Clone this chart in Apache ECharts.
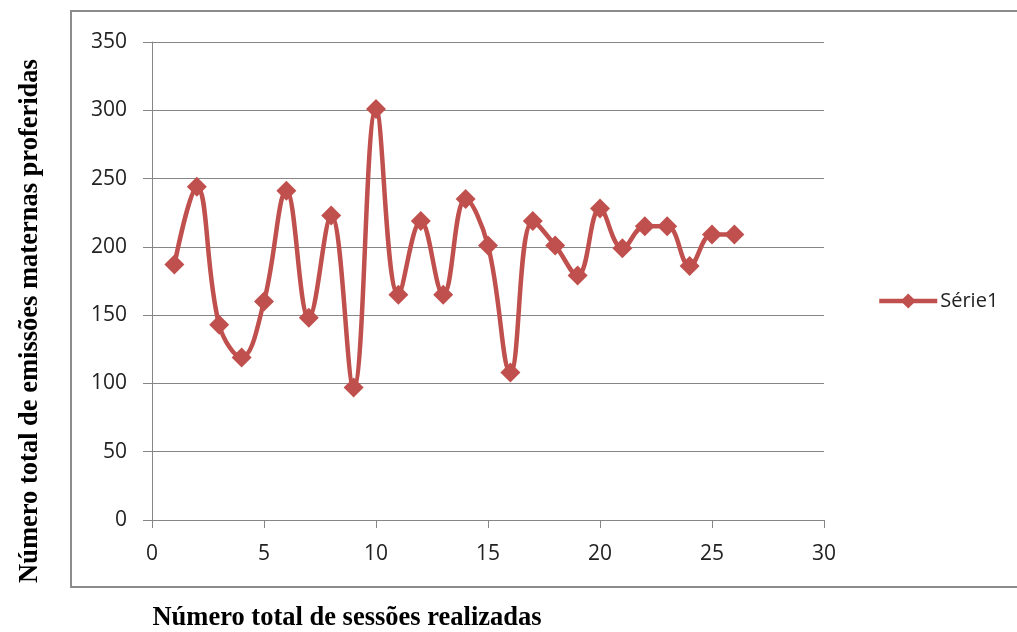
<!DOCTYPE html>
<html>
<head>
<meta charset="utf-8">
<script src="https://cdn.jsdelivr.net/npm/echarts@6/dist/echarts.min.js"></script>
<style>
  html, body { margin: 0; padding: 0; background: #fff; }
  #chart { width: 1017px; height: 632px; }
</style>
</head>
<body>
<div id="chart"></div>
<script>
// Sessions and number of maternal utterances per session
const sessoes = [1,2,3,4,5,6,7,8,9,10,11,12,13,14,15,16,17,18,19,20,21,22,23,24,25,26];
const emissoes = [187,244,143,119,160,241,148,223,97,301,165,219,165,235,201,108,219,201,179,228,199,215,215,186,209,209];
const serieNome = 'Série1';
const xTitulo = 'Número total de sessões realizadas';
const yTitulo = 'Número total de emissões maternas proferidas';

const pontos = sessoes.map((s, i) => [s, emissoes[i]]);
const vermelho = '#C0504D';
const cinza = '#868686';
const fonteEixo = '"Open Sans", sans-serif';
const fonteTitulo = 'bold 26.5px "Liberation Serif", "Times New Roman", serif';

const chart = echarts.init(document.getElementById('chart'));
chart.setOption({
  animation: false,
  backgroundColor: '#fff',
  graphic: [
    {
      type: 'rect',
      shape: { x: 71, y: 11, width: 1000, height: 576 },
      style: { fill: 'none', stroke: '#8c8c8c', lineWidth: 2 },
      silent: true
    },
    {
      type: 'text',
      x: 347, y: 618,
      style: {
        text: xTitulo, fill: '#000', font: fonteTitulo,
        align: 'center', verticalAlign: 'middle'
      }
    },
    {
      type: 'text',
      x: 30, y: 321, rotation: Math.PI / 2,
      style: {
        text: yTitulo, fill: '#000', font: fonteTitulo,
        align: 'center', verticalAlign: 'middle'
      }
    }
  ],
  grid: { left: 152, top: 42, width: 672, height: 478, containLabel: false },
  legend: {
    data: [serieNome],
    left: 872, top: 286,
    itemWidth: 58, itemHeight: 19,
    itemGap: 4,
    lineStyle: { width: 4.5 },
    textStyle: { fontFamily: fonteEixo, fontSize: 20, color: '#222', padding: [0, 0, 0, -2] }
  },
  xAxis: {
    type: 'value', min: 0, max: 30, interval: 5,
    axisLine: { show: true, lineStyle: { color: cinza, width: 1 } },
    axisTick: { show: true, length: 8, inside: false, lineStyle: { color: cinza } },
    splitLine: { show: false },
    axisLabel: { margin: 24, fontFamily: fonteEixo, fontSize: 21, color: '#222' }
  },
  yAxis: {
    type: 'value', min: 0, max: 350, interval: 50,
    axisLine: { show: true, lineStyle: { color: cinza, width: 1 } },
    axisTick: { show: true, length: 9, lineStyle: { color: cinza } },
    splitLine: { show: true, lineStyle: { color: cinza, width: 1 } },
    axisLabel: { margin: 25, fontFamily: fonteEixo, fontSize: 21, color: '#222' }
  },
  series: [{
    name: serieNome,
    type: 'line',
    data: pontos,
    smooth: 0.4,
    symbol: 'diamond',
    symbolSize: 20,
    itemStyle: { color: vermelho },
    lineStyle: { color: vermelho, width: 4.5 }
  }]
});
</script>
</body>
</html>
